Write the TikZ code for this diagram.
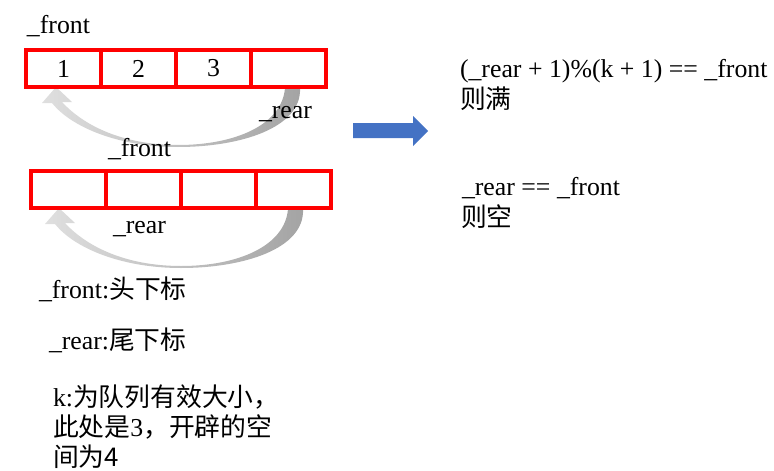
\documentclass[tikz,border=0pt]{standalone}
\usepackage{fontspec}
\setmainfont{Liberation Serif}
\newfontfamily\cjk{Noto Sans CJK SC}
\definecolor{arrblue}{HTML}{4472C4}
\begin{document}
\begin{tikzpicture}[x=1pt,y=-1pt,
  cell/.style={draw=red, line width=4pt, minimum width=75pt, minimum height=37pt,
    inner sep=0pt, outer sep=0pt, font=\fontsize{25.8}{30}\selectfont},
  txt/.style={anchor=base west, inner sep=0pt, outer sep=0pt, font=\fontsize{25.8}{30}\selectfont},
  grayarr/.style={left color=gray!25, middle color=gray!30, right color=gray!72}]
\useasboundingbox (0,0) rectangle (774,471);
% curved gray arrows
\foreach \dx/\dy in {0/0, 3/121}{
  \begin{scope}[shift={(\dx,\dy)}]
    \shade[grayarr]
      (300,88) .. controls (302,128) and (240,147) .. (178,147)
      .. controls (120,147) and (72,128) .. (52,103)
      -- (42,103) -- (56,87) -- (72,102) -- (62,102)
      .. controls (88,130) and (130,145) .. (178,145)
      .. controls (235,145) and (282,125) .. (285,88) -- cycle;
  \end{scope}
}
% top array
\node[cell] (a1) at (63.5,68.5) {1};
\node[cell] (a2) at (138.5,68.5) {2};
\node[cell] (a3) at (213.5,68.5) {3};
\node[cell] (a4) at (288.5,68.5) {};
% bottom array
\node[cell] (b1) at (68.5,189.5) {};
\node[cell] (b2) at (143.5,189.5) {};
\node[cell] (b3) at (218.5,189.5) {};
\node[cell] (b4) at (293.5,189.5) {};
% labels
\node[txt] (lf1) at (27,33) {\_front};
\node[txt] (lr1) at (259,118) {\_rear};
\node[txt] (lf2) at (108,156) {\_front};
\node[txt] (lr2) at (113,233) {\_rear};
% blue arrow
\fill[arrblue] (353,123) -- (413,123) -- (413,116) -- (428,131) -- (413,146)
  -- (413,138) -- (353,138) -- cycle;
% conditions
\node[txt] (c1) at (460,77) {(\_rear + 1)\%(k + 1) == \_front};
\node[txt] (c1b) at (460,108) {\cjk 则满};
\node[txt] (c2) at (462,195) {\_rear == \_front};
\node[txt] (c2b) at (461,226) {\cjk 则空};
% notes
\node[txt] (d1) at (39,298) {\_front:{\cjk 头下标}};
\node[txt] (d2) at (49,349) {\_rear:{\cjk 尾下标}};
\node[txt] (k1) at (53,406) {k:{\cjk 为队列有效大小，}};
\node[txt] (k2) at (53,436) {{\cjk 此处是}3{\cjk ，开辟的空}};
\node[txt] (k3) at (53,466) {{\cjk 间为4}};
\end{tikzpicture}
\end{document}
